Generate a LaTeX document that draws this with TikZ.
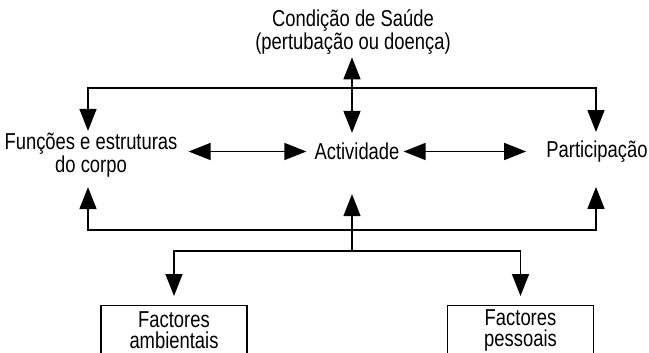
\documentclass[tikz,border=0pt]{standalone}
\usepackage{fontspec}
\setmainfont{Liberation Sans}[FakeStretch=0.8]
\usepackage{tikz}
\usetikzlibrary{arrows.meta}

\tikzset{
  lbl/.style={inner sep=0pt, align=center, font=\fontsize{23}{21}\selectfont},
  conn/.style={line width=1.5pt},
  arr/.style={conn, -{Triangle[width=17pt,length=22pt]}},
  both/.style={conn, {Triangle[width=17pt,length=22pt]}-{Triangle[width=17pt,length=22pt]}},
  factbox/.style={lbl, draw, line width=1.1pt,
    minimum width=146pt, minimum height=50pt, anchor=north}
}

\begin{document}
\begin{tikzpicture}[x=1pt,y=-1pt]
\useasboundingbox (0,0) rectangle (649,353);
\clip (0,0) rectangle (649,353);

% Labels
\node[lbl] (saude) at (353,32) {Condição de Saúde\\(pertubação ou doença)};
\node[lbl] (funcoes) at (91,155) {Funções e estruturas\\do corpo};
\node[lbl] (activ) at (357,151.5) {Actividade};
\node[lbl] (partic) at (597,152) {Participação};

% Factors
\node[factbox] (ambient) at (174,305) {Factores\\ambientais};
\node[factbox] (pessoal) at (520.5,305) {Factores\\pessoais};

% Junctions
\coordinate (tl) at (88,88);
\coordinate (tr) at (596,88);
\coordinate (bl) at (88,230);
\coordinate (br) at (596,230);
\coordinate (fork) at (352,251);

% Health condition
\draw[both, shorten <=3pt, shorten >=10pt] (saude.south -| fork) -- (activ.north -| fork);
\draw[arr, shorten >=2pt] (tr) -- (tl) -- (funcoes.north -| tl);
\draw[arr, shorten >=9pt] (tl) -- (tr) -- (partic.north -| tr);

% Middle row
\draw[both, shorten <=11pt, shorten >=8pt] (funcoes.east |- activ.west) -- (activ.west);
\draw[both, shorten <=4pt, shorten >=20pt] (activ.east) -- (partic.west |- activ.east);

% Contextual factors
\draw[arr, shorten >=10pt] (br) -- (bl) -- (funcoes.south -| bl);
\draw[arr, shorten >=24pt] (bl) -- (br) -- (partic.south -| br);
\draw[arr, shorten >=34pt] (fork) -- (activ.south -| fork);
\draw[arr, shorten >=9pt] (fork) -| (ambient.north);
\draw[arr, shorten >=9pt] (fork) -| (pessoal.north);
\end{tikzpicture}
\end{document}
